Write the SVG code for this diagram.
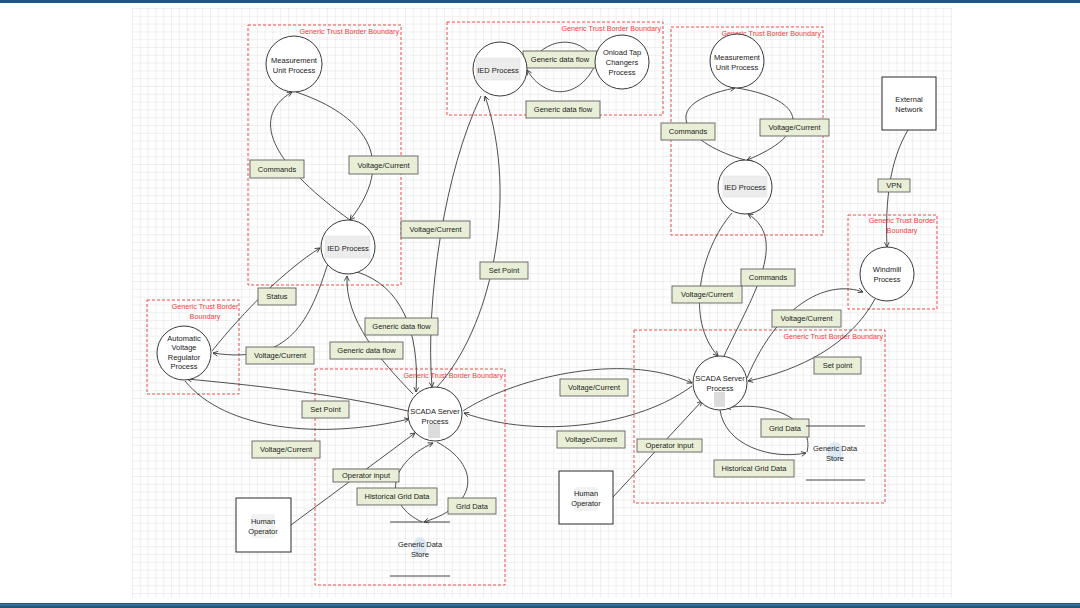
<svg xmlns="http://www.w3.org/2000/svg" width="1080" height="608" viewBox="0 0 1080 608">
<style>
text{font-family:"Liberation Sans","DejaVu Sans",sans-serif;font-size:7.5px;fill:#222;text-anchor:middle;dominant-baseline:central}
.bd{fill:none;stroke:#f04a4a;stroke-width:1;stroke-dasharray:3,2}
.bt{fill:#f03c3c;font-size:7.2px;text-anchor:end}
.bc{fill:#f03c3c;font-size:7.2px}
.pc{fill:#fff;stroke:#3a3a3a;stroke-width:1}
.ent{fill:#fff;stroke:#2a2a2a;stroke-width:1}
.ds{stroke:#444;stroke-width:1.2}
.c{fill:none;stroke:#3a3a3a;stroke-width:0.9;marker-end:url(#ah)}
.lb{fill:#e9efd6;stroke:#5f5f5f;stroke-width:0.9}
.ico{fill:#ececec;stroke:#e0e0e0;stroke-width:0.5}
</style>
<defs>
<pattern id="grid" x="132" y="8" width="7.8" height="7.8" patternUnits="userSpaceOnUse">
<path d="M0,0 H7.8 M0,0 V7.8" fill="none" stroke="#e2e2e2" stroke-width="1"/>
</pattern>
<marker id="ah" viewBox="0 0 10 10" refX="9" refY="5" markerWidth="6" markerHeight="6" orient="auto" markerUnits="userSpaceOnUse">
<path d="M1,1 L9,5 L1,9" fill="none" stroke="#333" stroke-width="1.4"/>
</marker>
</defs>
<rect width="1080" height="608" fill="#fff"/>
<rect x="0" y="0" width="1080" height="3" fill="#1d568a"/>
<rect x="132" y="8" width="820" height="590" fill="url(#grid)"/>
<rect x="0" y="603" width="1080" height="5" fill="#1d568a"/>
<rect x="0" y="604.5" width="1080" height="0.8" fill="#5b8ab5"/>

<g id="boundaries">
<rect class="bd" x="248" y="25" width="153" height="260"/>
<text class="bt" x="399" y="31">Generic Trust Border Boundary</text>
<rect class="bd" x="447" y="22" width="216" height="93"/>
<text class="bt" x="661" y="28">Generic Trust Border Boundary</text>
<rect class="bd" x="671" y="27" width="152" height="208"/>
<text class="bt" x="821" y="33">Generic Trust Border Boundary</text>
<rect class="bd" x="848" y="215" width="89" height="94"/>
<text class="bc" x="902" y="220">Generic Trust Border</text>
<text class="bc" x="902" y="230">Boundary</text>
<rect class="bd" x="634" y="330" width="251" height="173"/>
<text class="bt" x="883" y="336">Generic Trust Border Boundary</text>
<rect class="bd" x="147" y="300" width="92" height="94"/>
<text class="bc" x="205" y="306">Generic Trust Border</text>
<text class="bc" x="205" y="316">Boundary</text>
<rect class="bd" x="315" y="369" width="190" height="216"/>
<text class="bt" x="503" y="375">Generic Trust Border Boundary</text>
</g>

<g id="connectors">
<path class="c" d="M350,220 C280,170 245,120 292,92"/>
<path class="c" d="M296,92 C350,110 405,150 350,220"/>
<path class="c" d="M527,68 C545,35 580,35 595,60"/>
<path class="c" d="M596,63 C580,100 545,100 527,70"/>
<path class="c" d="M745,160 C690,145 650,105 735,88"/>
<path class="c" d="M737,88 C810,100 810,135 747,160"/>
<path class="c" d="M908,130 C890,160 885,200 887,247"/>
<path class="c" d="M732,213 C700,250 685,320 718,356"/>
<path class="c" d="M724,356 C750,300 790,240 748,214"/>
<path class="c" d="M747,378 C780,300 830,280 863,292"/>
<path class="c" d="M875,299 C850,345 800,370 748,381"/>
<path class="c" d="M463,411 C510,380 620,350 692,383"/>
<path class="c" d="M692,386 C640,425 540,440 464,413"/>
<path class="c" d="M613,497 L702,401"/>
<path class="c" d="M720,410 C725,445 770,460 806,453"/>
<path class="c" d="M807,452 C815,420 770,400 726,408"/>
<path class="c" d="M212,351 C245,310 285,270 320,248"/>
<path class="c" d="M328,263 C310,320 290,365 213,353"/>
<path class="c" d="M357,272 C400,285 420,330 416,392"/>
<path class="c" d="M413,394 C380,360 345,320 347,276"/>
<path class="c" d="M481,96 C445,170 425,300 432,387"/>
<path class="c" d="M437,387 C490,330 520,200 485,96"/>
<path class="c" d="M408,411 C330,393 250,385 187,379"/>
<path class="c" d="M185,381 C225,430 320,440 409,419"/>
<path class="c" d="M291,525 L415,433"/>
<path class="c" d="M422,522 C385,505 385,465 433,443"/>
<path class="c" d="M437,442 C480,465 480,505 424,522"/>
</g>

<g id="labels">
<rect class="lb" x="250" y="160" width="54" height="18"/><text x="277" y="169">Commands</text>
<rect class="lb" x="349" y="156" width="69" height="18"/><text x="383.5" y="165">Voltage/Current</text>
<rect class="lb" x="523" y="51" width="74" height="17"/><text x="560" y="59.5">Generic data flow</text>
<rect class="lb" x="526" y="101" width="74" height="17"/><text x="563" y="109.5">Generic data flow</text>
<rect class="lb" x="661" y="123" width="54" height="17"/><text x="688" y="131.5">Commands</text>
<rect class="lb" x="760" y="119" width="69" height="17"/><text x="794.5" y="127.5">Voltage/Current</text>
<rect class="lb" x="878" y="179" width="32" height="13"/><text x="894" y="185.5">VPN</text>
<rect class="lb" x="741" y="269" width="54" height="17"/><text x="768" y="277.5">Commands</text>
<rect class="lb" x="672" y="286" width="70" height="17"/><text x="707" y="294.5">Voltage/Current</text>
<rect class="lb" x="772" y="310" width="69" height="17"/><text x="806.5" y="318.5">Voltage/Current</text>
<rect class="lb" x="814" y="357" width="47" height="17"/><text x="837.5" y="365.5">Set point</text>
<rect class="lb" x="560" y="379" width="68" height="17"/><text x="594" y="387.5">Voltage/Current</text>
<rect class="lb" x="557" y="431" width="68" height="17"/><text x="591" y="439.5">Voltage/Current</text>
<rect class="lb" x="637" y="439" width="65" height="13"/><text x="669.5" y="445.5">Operator input</text>
<rect class="lb" x="761" y="419" width="48" height="18"/><text x="785" y="428">Grid Data</text>
<rect class="lb" x="714" y="460" width="80" height="17"/><text x="754" y="468.5">Historical Grid Data</text>
<rect class="lb" x="258" y="288" width="38" height="17"/><text x="277" y="296.5">Status</text>
<rect class="lb" x="246" y="347" width="68" height="17"/><text x="280" y="355.5">Voltage/Current</text>
<rect class="lb" x="365" y="318" width="73" height="17"/><text x="401.5" y="326.5">Generic data flow</text>
<rect class="lb" x="330" y="342" width="73" height="17"/><text x="366.5" y="350.5">Generic data flow</text>
<rect class="lb" x="401" y="221" width="69" height="17"/><text x="435.5" y="229.5">Voltage/Current</text>
<rect class="lb" x="480" y="262" width="48" height="17"/><text x="504" y="270.5">Set Point</text>
<rect class="lb" x="302" y="401" width="47" height="17"/><text x="325.5" y="409.5">Set Point</text>
<rect class="lb" x="252" y="441" width="68" height="17"/><text x="286" y="449.5">Voltage/Current</text>
<rect class="lb" x="333" y="469" width="66" height="13"/><text x="366" y="475.5">Operator input</text>
<rect class="lb" x="357" y="488" width="80" height="17"/><text x="397" y="496.5">Historical Grid Data</text>
<rect class="lb" x="448" y="498" width="48" height="16"/><text x="472" y="506">Grid Data</text>
</g>

<g id="measurement-1"><circle class="pc" cx="294" cy="64" r="28"/><text x="294" y="60">Measurement</text><text x="294" y="70">Unit Process</text></g>
<g id="ied-1"><circle class="pc" cx="348" cy="247" r="27"/><rect class="ico" x="325" y="236" width="45" height="22"/><text x="348" y="248">IED Process</text></g>
<g id="ied-2"><circle class="pc" cx="500" cy="69" r="27"/><rect class="ico" x="476" y="58" width="44" height="22"/><text x="498" y="70">IED Process</text></g>
<g id="onload-tap"><circle class="pc" cx="622" cy="62" r="27"/><text x="622" y="52">Onload Tap</text><text x="622" y="62.5">Changers</text><text x="622" y="72.5">Process</text></g>
<g id="measurement-2"><circle class="pc" cx="737" cy="61" r="27"/><text x="737" y="57">Measurement</text><text x="737" y="67">Unit Process</text></g>
<g id="ied-3"><circle class="pc" cx="745" cy="187" r="27"/><rect class="ico" x="723" y="176" width="44" height="21"/><text x="745" y="187">IED Process</text></g>
<g id="external-network"><rect class="ent" x="882" y="77" width="54" height="53"/><text x="909" y="99">External</text><text x="909" y="109">Network</text></g>
<g id="windmill"><circle class="pc" cx="887" cy="274" r="27"/><text x="887" y="269">Windmill</text><text x="887" y="279">Process</text></g>
<g id="avr"><circle class="pc" cx="184" cy="353" r="27"/><text x="184" y="338">Automatic</text><text x="184" y="347.5">Voltage</text><text x="184" y="357">Regulator</text><text x="184" y="366.5">Process</text></g>
<g id="scada-1"><circle class="pc" cx="435" cy="414" r="27"/><rect x="428" y="424" width="12" height="14" fill="#dcdcdc"/><text x="435" y="411">SCADA Server</text><text x="435" y="421">Process</text></g>
<g id="scada-2"><circle class="pc" cx="720" cy="383" r="27"/><rect x="714" y="392" width="11" height="15" fill="#dcdcdc"/><text x="720" y="378">SCADA Server</text><text x="720" y="388">Process</text></g>
<g id="data-store-1"><line class="ds" x1="390" y1="522" x2="450" y2="522"/><line class="ds" x1="390" y1="576" x2="450" y2="576"/><ellipse cx="420" cy="547" rx="7" ry="10" fill="#dce9f5"/><text x="420" y="544">Generic Data</text><text x="420" y="554">Store</text></g>
<g id="data-store-2"><line class="ds" x1="806" y1="426" x2="865" y2="426"/><line class="ds" x1="806" y1="480" x2="865" y2="480"/><ellipse cx="835" cy="452" rx="8" ry="10" fill="#dce9f5"/><text x="835" y="448">Generic Data</text><text x="835" y="458">Store</text></g>
<g id="human-operator-1"><rect class="ent" x="236" y="498" width="55" height="54"/><rect x="251" y="514" width="24" height="24" rx="3" fill="#f2f2f2"/><text x="263" y="521">Human</text><text x="263" y="531">Operator</text></g>
<g id="human-operator-2"><rect class="ent" x="559" y="471" width="54" height="53"/><rect x="574" y="487" width="24" height="24" rx="3" fill="#f2f2f2"/><text x="586" y="493">Human</text><text x="586" y="503">Operator</text></g>
</svg>
